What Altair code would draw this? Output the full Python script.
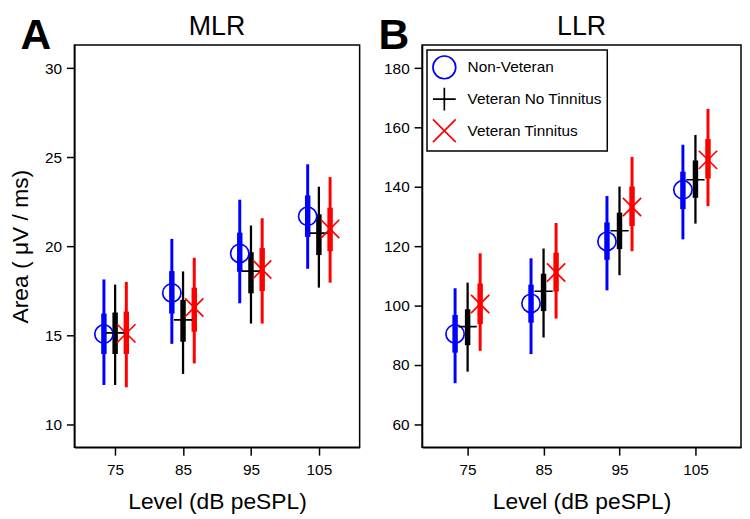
import altair as alt
import pandas as pd

levels = [75, 85, 95, 105]
groups = ["Non-Veteran", "Veteran No Tinnitus", "Veteran Tinnitus"]
group_colors = ["#0000ff", "#000000", "#ff0000"]
group_shapes = ["circle", "M-1,0H1M0,-1V1", "M-1,-1L1,1M-1,1L1,-1"]
thin_widths = [3, 2.3, 3]

# ---- MLR (Area, uV/ms) ----
mlr_nonvet_mean = [15.06, 17.37, 19.59, 21.68]
mlr_nonvet_q1 = [13.94, 16.21, 18.56, 20.52]
mlr_nonvet_q3 = [16.21, 18.60, 20.76, 22.85]
mlr_nonvet_lo = [12.20, 14.51, 16.79, 18.73]
mlr_nonvet_hi = [18.13, 20.41, 22.61, 24.60]

mlr_vnt_mean = [15.13, 15.86, 18.60, 20.73]
mlr_vnt_q1 = [13.94, 14.63, 17.35, 19.50]
mlr_vnt_q3 = [16.27, 16.98, 19.66, 21.79]
mlr_vnt_lo = [12.20, 12.82, 15.65, 17.67]
mlr_vnt_hi = [17.84, 18.58, 21.16, 23.34]

mlr_vt_mean = [15.10, 16.55, 18.69, 20.97]
mlr_vt_q1 = [13.94, 15.19, 17.48, 19.72]
mlr_vt_q3 = [16.32, 17.67, 19.89, 22.16]
mlr_vt_lo = [12.07, 13.41, 15.65, 17.95]
mlr_vt_hi = [17.99, 19.35, 21.57, 23.88]

# ---- LLR ----
llr_nonvet_mean = [90.4, 100.7, 121.6, 139.0]
llr_nonvet_q1 = [84.1, 94.2, 115.4, 132.5]
llr_nonvet_q3 = [96.8, 107.0, 128.0, 145.1]
llr_nonvet_lo = [73.8, 83.6, 105.1, 122.3]
llr_nonvet_hi = [105.8, 115.9, 136.9, 154.2]

llr_vnt_mean = [92.9, 104.8, 125.2, 142.4]
llr_vnt_q1 = [86.6, 98.1, 119.0, 136.3]
llr_vnt_q3 = [98.7, 110.7, 131.3, 148.9]
llr_vnt_lo = [77.7, 89.2, 110.2, 127.6]
llr_vnt_hi = [107.7, 119.2, 140.1, 157.5]

llr_vt_mean = [100.5, 111.1, 133.2, 149.1]
llr_vt_q1 = [93.7, 104.7, 126.8, 142.8]
llr_vt_q3 = [107.4, 117.8, 140.1, 156.1]
llr_vt_lo = [84.7, 95.6, 118.3, 133.5]
llr_vt_hi = [117.6, 127.8, 150.1, 166.3]

mlr_yticks = [10, 15, 20, 25, 30]
llr_yticks = [60, 80, 100, 120, 140, 160, 180]


def long_table(means, q1s, q3s, los, his):
    rows = []
    for g, m, a, b, lo, hi in zip(groups, means, q1s, q3s, los, his):
        for i, lev in enumerate(levels):
            rows.append(dict(group=g, level=lev, mean=m[i], q1=a[i], q3=b[i], lo=lo[i], hi=hi[i]))
    return pd.DataFrame(rows)


mlr_df = long_table(
    [mlr_nonvet_mean, mlr_vnt_mean, mlr_vt_mean],
    [mlr_nonvet_q1, mlr_vnt_q1, mlr_vt_q1],
    [mlr_nonvet_q3, mlr_vnt_q3, mlr_vt_q3],
    [mlr_nonvet_lo, mlr_vnt_lo, mlr_vt_lo],
    [mlr_nonvet_hi, mlr_vnt_hi, mlr_vt_hi],
)
llr_df = long_table(
    [llr_nonvet_mean, llr_vnt_mean, llr_vt_mean],
    [llr_nonvet_q1, llr_vnt_q1, llr_vt_q1],
    [llr_nonvet_q3, llr_vnt_q3, llr_vt_q3],
    [llr_nonvet_lo, llr_vnt_lo, llr_vt_lo],
    [llr_nonvet_hi, llr_vnt_hi, llr_vt_hi],
)

DODGE = ("datum.level + (datum.group === 'Non-Veteran' ? -1.65 : "
         "(datum.group === 'Veteran Tinnitus' ? 1.65 : 0))")
FONT = "Liberation Sans"
H = 406


def panel(df, ydom, yticks, w, title_txt, letter, letter_x, ytitle, legend):
    base = alt.Chart(df).transform_calculate(xpos=DODGE)
    xenc = alt.X("xpos:Q", scale=alt.Scale(domain=[69, 111], nice=False, zero=False),
                 axis=alt.Axis(values=levels, title="Level (dB peSPL)"))

    def yenc(field):
        return alt.Y(field, type="quantitative",
                     scale=alt.Scale(domain=ydom, nice=False, zero=False),
                     axis=alt.Axis(values=yticks, title=ytitle))

    thins, thicks = [], []
    for g, c, tw in zip(groups, group_colors, thin_widths):
        sub = base.transform_filter(alt.datum.group == g)
        thins.append(sub.mark_rule(color=c, strokeWidth=tw).encode(x=xenc, y=yenc("lo"), y2="hi:Q"))
        thicks.append(sub.mark_rule(color=c, strokeWidth=5.5).encode(x=xenc, y=yenc("q1"), y2="q3:Q"))

    if legend:
        lg = alt.Legend(title=None, orient="top-left", offset=5, padding=5, strokeColor="black",
                        labelFont=FONT, labelFontSize=15.5, labelColor="black", labelOffset=11,
                        symbolSize=529, symbolStrokeWidth=1.7, rowPadding=1)
    else:
        lg = None
    pts = base.mark_point(filled=False, size=340, strokeWidth=1.7, opacity=1).encode(
        x=xenc, y=yenc("mean"),
        color=alt.Color("group:N", scale=alt.Scale(domain=groups, range=group_colors), legend=lg),
        shape=alt.Shape("group:N", scale=alt.Scale(domain=groups, range=group_shapes), legend=lg),
    )
    ttl = alt.Chart(pd.DataFrame({"t": [title_txt]})).mark_text(
        font=FONT, fontSize=27, align="center", baseline="alphabetic", color="black"
    ).encode(text="t:N", x=alt.value(w / 2), y=alt.value(-10.3))
    let = alt.Chart(pd.DataFrame({"t": [letter]})).mark_text(
        font=FONT, fontSize=43, fontWeight="bold", align="left", baseline="alphabetic", color="black"
    ).encode(text="t:N", x=alt.value(letter_x), y=alt.value(4.2))
    return alt.layer(*thins, *thicks, pts, ttl, let).properties(width=w, height=H)


left = panel(mlr_df, [8.7, 31.3], mlr_yticks, 288, "MLR", "A", -54.5, "Area ( μV / ms)", False)
right = panel(llr_df, [52.2, 187.8], llr_yticks, 322, "LLR", "B", -44, None, True)

chart = alt.hconcat(left, right, spacing=17).resolve_scale(
    color="independent", shape="independent"
).configure_view(
    stroke="black", strokeWidth=1.5
).configure_axis(
    domainColor="black", domainWidth=1.5, tickColor="black", tickWidth=1.5,
    labelColor="black", labelFont=FONT, labelFontSize=15.5,
    titleFont=FONT, titleFontWeight="normal", titleColor="black", grid=False,
).configure_axisX(
    tickSize=8, labelPadding=8, titlePadding=12.8, titleFontSize=23
).configure_axisY(
    tickSize=8, labelPadding=5, titlePadding=12.5, titleFontSize=23
).configure_legend(
    labelFont=FONT, labelFontSize=15.5, labelColor="black", strokeWidth=1.5
).properties(
    padding={"left": 0, "top": 1, "right": 0, "bottom": 0}
)

chart.save("out.html", embed_options={"renderer": "svg", "actions": False})
